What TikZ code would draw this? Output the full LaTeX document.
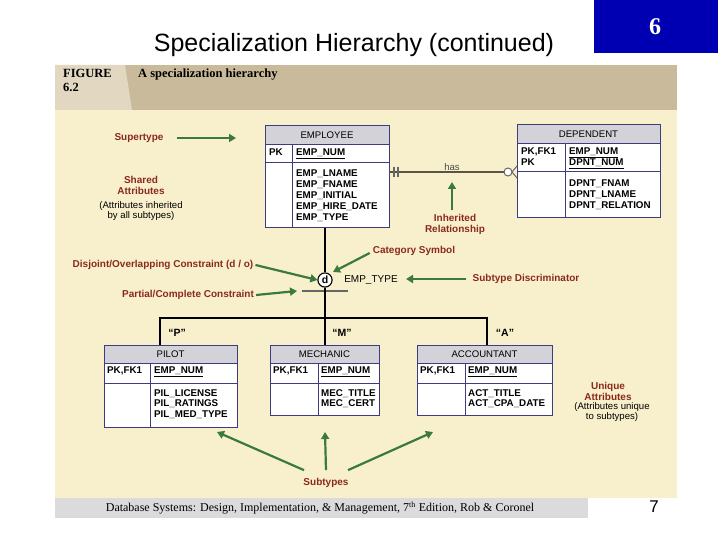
\documentclass[tikz,border=0pt]{standalone}
\usepackage{fontspec}
\setmainfont{Liberation Sans}
\newfontfamily\serifface{Liberation Serif}
\usetikzlibrary{arrows.meta,positioning}
\definecolor{paper}{HTML}{F8F0CC}
\definecolor{band}{HTML}{C8BA9A}
\definecolor{bandlight}{HTML}{E2D8C2}
\definecolor{hdr}{HTML}{D2D2D8}
\definecolor{navy}{HTML}{3C3C80}
\definecolor{note}{HTML}{8A2A1C}
\definecolor{pointer}{HTML}{3A7A3A}
\tikzset{
  tbl/.style={draw=navy, line width=1pt},
  attr/.style={font=\fontsize{9.8}{10.9}\selectfont\bfseries, align=left, anchor=north west, inner sep=0pt},
  key/.style={attr},
  ttl/.style={font=\fontsize{9.6}{9}\selectfont, inner sep=0pt},
  lbl/.style={font=\fontsize{10}{11}\selectfont\bfseries, text=note, align=center, inner sep=1pt},
  sub/.style={font=\fontsize{9.6}{10.5}\selectfont, align=center, inner sep=1pt},
  figfont/.style={font=\serifface\fontsize{12.5}{14}\selectfont\bfseries, align=left, anchor=north west, inner sep=0pt},
  ptr/.style={draw=pointer, line width=2.2pt, -{Triangle[length=7pt,width=8pt]}},
  link/.style={draw=black, line width=1.1pt},
}
% draw an entity box: x1, y1, x2, y2, header bottom, key bottom, divider x, name
\newcommand{\entbox}[8]{
  \fill[white] (#1,#2) rectangle (#3,#4);
  \fill[hdr] (#1,#2) rectangle (#3,#5);
  \draw[tbl] (#1,#2) rectangle (#3,#4);
  \draw[tbl] (#1,#5) -- (#3,#5);
  \draw[tbl] (#1,#6) -- (#3,#6);
  \draw[tbl] (#7,#5) -- (#7,#4);
  \node[ttl] at ({(#1+#3)/2},{(#2+#5)/2}) {#8};
}
\begin{document}
\begin{tikzpicture}[x=1pt, y=-1pt]
  \useasboundingbox (0,0) rectangle (720,540);
  \fill[white] (0,0) rectangle (720,540);

  % slide frame
  \node (title) at (354,45) {\fontsize{25}{28}\selectfont Specialization Hierarchy (continued)};
  \fill[blue!70!black] (594,0) rectangle (718,53);
  \node[font=\serifface\fontsize{24}{24}\selectfont\bfseries, text=white] (chap) at (655,27) {6};

  % figure panel
  \fill[paper] (55,65) rectangle (677,498);
  \fill[band] (55,65) rectangle (677,110);
  \fill[bandlight] (55,65) -- (125,65) -- (132,110) -- (55,110) -- cycle;
  \node[figfont] (fig) at (63,69) {FIGURE\\6.2};
  \node[figfont] (figtitle) at (138,69) {A specialization hierarchy};
  \fill[black!14] (55,498) rectangle (588,518);
  \node[font=\serifface\fontsize{12}{12}\selectfont] (foot) at (320,508) {Database Systems: Design, Implementation, \& Management, 7\textsuperscript{th} Edition, Rob \& Coronel};
  \node[font=\fontsize{17}{17}\selectfont] (page) at (654,507) {7};

  % entities
  \entbox{265}{126}{389}{228}{145}{163}{292}{EMPLOYEE}
  \node[key] (empk) at (269,149) {PK};
  \node[key] (empkey) at (296,149) {\underline{EMP\_NUM}};
  \node[attr] (empattr) at (296,170) {EMP\_LNAME\\EMP\_FNAME\\EMP\_INITIAL\\EMP\_HIRE\_DATE\\EMP\_TYPE};

  \entbox{517}{125}{660}{218}{144}{172}{565}{DEPENDENT}
  \node[key] (depk) at (521,148) {PK,FK1\\PK};
  \node[key] (depkey) at (569,148) {\underline{EMP\_NUM}\\\underline{DPNT\_NUM}};
  \node[attr] (depattr) at (569,180) {DPNT\_FNAM\\DPNT\_LNAME\\DPNT\_RELATION};

  \entbox{104}{345}{237}{427}{363}{383}{150}{PILOT}
  \node[key] (pilk) at (107,367) {PK,FK1};
  \node[key] (pilkey) at (154,367) {\underline{EMP\_NUM}};
  \node[attr] (pilattr) at (154,389) {PIL\_LICENSE\\PIL\_RATINGS\\PIL\_MED\_TYPE};

  \entbox{270}{345}{379}{415}{363}{383}{318}{MECHANIC}
  \node[key] (meck) at (273,367) {PK,FK1};
  \node[key] (meckey) at (321,367) {\underline{EMP\_NUM}};
  \node[attr] (mecattr) at (321,389) {MEC\_TITLE\\MEC\_CERT};

  \entbox{417}{345}{552}{415}{363}{383}{465}{ACCOUNTANT}
  \node[key] (actk) at (420,367) {PK,FK1};
  \node[key] (actkey) at (468,367) {\underline{EMP\_NUM}};
  \node[attr] (actattr) at (468,389) {ACT\_TITLE\\ACT\_CPA\_DATE};

  % relationship
  \draw[draw=black!55!band, line width=1.5pt] (389,172) -- (505,172);
  \draw[black!60, line width=1.1pt] (394,167) -- (394,177) (398,167) -- (398,177);
  \draw[black!60, line width=1pt, fill=white] (508,172) circle (4);
  \draw[black!60, line width=1pt] (517,166) -- (512,172) -- (517,178);
  \node[sub, text=black!70] (has) at (452,167) {has};

  % specialization
  \node[draw, circle, line width=1.1pt, fill=white, inner sep=1.5pt, font=\fontsize{10.5}{10}\selectfont\bfseries] (cat) at (325,280) {d};
  \draw[link] (325,228) -- (cat);
  \draw[black!60, line width=1.8pt] (302,291) -- (348,291);
  \draw[link] (cat) -- (325,318);
  \draw[link] (160,345) -- (160,318) -- (487,318) -- (487,345);
  \draw[link] (325,318) -- (325,345);
  \node[sub, font=\fontsize{10}{10}\selectfont] (disc) at (371,280) {EMP\_TYPE};
  \node[sub, font=\fontsize{10.5}{10}\selectfont\bfseries] (pv) at (177,333) {``P''};
  \node[sub, font=\fontsize{10.5}{10}\selectfont\bfseries] (mv) at (342,333) {``M''};
  \node[sub, font=\fontsize{10.5}{10}\selectfont\bfseries] (av) at (505,333) {``A''};

  % annotations
  \node[lbl] (supertype) at (139,138) {Supertype};
  \node[lbl] (shared) at (141,185) {Shared\\Attributes};
  \node[sub] (sharednote) at (141,211) {(Attributes inherited\\by all subtypes)};
  \node[lbl] (inherited) at (455,224) {Inherited\\Relationship};
  \node[lbl] (category) at (414,251) {Category Symbol};
  \node[lbl] (disjoint) at (163,265) {Disjoint/Overlapping Constraint (d / o)};
  \node[lbl] (discrim) at (526,279) {Subtype Discriminator};
  \node[lbl] (partial) at (188,295) {Partial/Complete Constraint};
  \node[lbl] (unique) at (608,391) {Unique\\Attributes};
  \node[sub] (uniquenote) at (612,412) {(Attributes unique\\to subtypes)};
  \node[lbl] (subtypes) at (326,483) {Subtypes};

  \draw[ptr] (supertype.east) ++(12,0) -- (236,138);
  \draw[ptr] (inherited.north) ++(-3,-3) -- (452,182);
  \draw[ptr] (category.west) ++(-2,2) -- (333,272);
  \draw[ptr] (disjoint.east) ++(1,0) -- (cat.west);
  \draw[ptr] (discrim.west) ++(-5,0) -- (406,279);
  \draw[ptr] (partial.east) ++(1,0) -- (297,291);
  \draw[ptr] (subtypes.north) ++(-22,-7) -- (217,432);
  \draw[ptr] (subtypes.north) ++(0,-7) -- (325,432);
  \draw[ptr] (subtypes.north) ++(22,-7) -- (433,432);
\end{tikzpicture}
\end{document}
